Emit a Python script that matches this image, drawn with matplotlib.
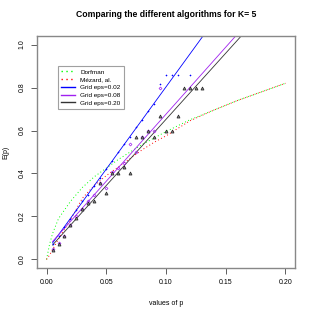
import matplotlib
matplotlib.use("Agg")
import matplotlib.pyplot as plt
import numpy as np

plt.rcParams['font.family'] = ['Liberation Sans', 'DejaVu Sans']

# Dorfman and Mezard curves
p_curve = [0, 0.0025, 0.005, 0.01, 0.015, 0.02, 0.03, 0.04, 0.05, 0.06,
           0.07, 0.08, 0.09, 0.10, 0.12, 0.14, 0.16, 0.18, 0.20]
dorfman = [0, 0.07, 0.12, 0.19, 0.23, 0.27, 0.335, 0.385, 0.425, 0.465,
           0.50, 0.535, 0.565, 0.595, 0.65, 0.695, 0.74, 0.78, 0.82]
mezard = [0, 0.02, 0.045, 0.095, 0.14, 0.185, 0.285, 0.345, 0.39, 0.43,
          0.47, 0.51, 0.545, 0.575, 0.645, 0.695, 0.74, 0.78, 0.82]

# grid results, eps = 0.02 (blue +)
p_blue = [0.005, 0.01, 0.015, 0.02, 0.025, 0.03, 0.035, 0.04, 0.045, 0.05,
          0.055, 0.06, 0.065, 0.07, 0.075, 0.08, 0.085, 0.09, 0.095, 0.10,
          0.105, 0.11, 0.12]
e_blue = [0.07, 0.11, 0.15, 0.19, 0.23, 0.27, 0.30, 0.34, 0.38, 0.42,
          0.46, 0.50, 0.538, 0.57, 0.617, 0.65, 0.69, 0.724, 0.817, 0.857,
          0.857, 0.857, 0.857]

# grid results, eps = 0.08 (purple diamonds)
p_purple = [0.005, 0.01, 0.015, 0.02, 0.025, 0.03, 0.035, 0.04, 0.045, 0.05,
            0.055, 0.06, 0.065, 0.07, 0.075, 0.08, 0.085, 0.09, 0.095]
e_purple = [0.05, 0.078, 0.11, 0.16, 0.20, 0.235, 0.27, 0.30, 0.357, 0.333,
            0.408, 0.427, 0.45, 0.538, 0.50, 0.571, 0.60, 0.60, 0.80]

# grid results, eps = 0.20 (black triangles)
p_black = [0.005, 0.01, 0.015, 0.02, 0.025, 0.03, 0.035, 0.04, 0.045, 0.05,
           0.055, 0.06, 0.065, 0.07, 0.075, 0.08, 0.085, 0.09, 0.095, 0.10,
           0.105, 0.11, 0.115, 0.12, 0.125, 0.13]
e_black = [0.042, 0.073, 0.107, 0.158, 0.194, 0.233, 0.264, 0.273, 0.357, 0.307,
           0.40, 0.40, 0.43, 0.40, 0.571, 0.571, 0.60, 0.571, 0.667, 0.60,
           0.60, 0.667, 0.80, 0.80, 0.80, 0.80]

# fitted lines (intercept, slope) drawn from p = 0.005 to 0.2
fit_p = [0.005, 0.20]
fit_blue = (0.038, 7.65)
fit_purple = (0.052, 6.24)
fit_black = (0.036, 6.16)

fig = plt.figure(figsize=(3.15, 3.15), dpi=100)
ax = fig.add_axes([37/315, 1 - 268/315, (295 - 37)/315, (268 - 36)/315])

ax.plot(p_curve, dorfman, color='#00ff00', lw=0.7, ls=(0, (1, 2.5)), label='Dorfman')
ax.plot(p_curve, mezard, color='red', lw=0.7, ls=(0, (1, 2.5)), label='Mézard, al.')

fp = np.array(fit_p)
ax.plot(fp, fit_blue[0] + fit_blue[1] * fp, color='blue', lw=0.6, label='Grid eps=0.02')
ax.plot(fp, fit_purple[0] + fit_purple[1] * fp, color='#a020f0', lw=0.6, label='Grid eps=0.08')
ax.plot(fp, fit_black[0] + fit_black[1] * fp, color='#333333', lw=0.6, label='Grid eps=0.20')

ax.plot(p_blue, e_blue, ls='none', marker='+', ms=1.8, mew=0.4, color='blue')
ax.plot(p_purple, e_purple, ls='none', marker='D', ms=1.5, mew=0.5,
        mfc='none', mec='#a020f0')
ax.plot(p_black, e_black, ls='none', marker='^', ms=2.2, mew=0.5,
        mfc='#888888', mec='#222222')

ax.set_xlim(-0.008, 0.208)
ax.set_ylim(-0.04, 1.04)
ax.set_xticks([0, 0.05, 0.10, 0.15, 0.20])
ax.set_xticklabels(['0.00', '0.05', '0.10', '0.15', '0.20'])
ax.set_yticks([0, 0.2, 0.4, 0.6, 0.8, 1.0])
ax.set_yticklabels(['0.0', '0.2', '0.4', '0.6', '0.8', '1.0'], rotation=90, va='center')
ax.tick_params(labelsize=5, length=4, width=0.6, color='#444444', pad=4)
for s in ax.spines.values():
    s.set_color('#888888')
    s.set_linewidth(1)

ax.set_xlabel('values of p', fontsize=5, labelpad=10)
ax.set_ylabel('E(p)', fontsize=5, labelpad=7)
ax.set_title('Comparing the different algorithms for K= 5', fontsize=6.2,
             fontweight='bold', pad=14)

leg = ax.legend(loc='upper left', bbox_to_anchor=(58/315, 1 - 66/315),
                bbox_transform=fig.transFigure, fontsize=4.6, fancybox=False,
                handlelength=2.2, labelspacing=0.35, borderpad=0.5,
                handletextpad=0.8, borderaxespad=0)
leg.get_frame().set_edgecolor('#888888')
leg.get_frame().set_linewidth(0.8)
for h in leg.get_lines():
    h.set_linewidth(1.0)

fig.savefig('out.png', dpi=100)
